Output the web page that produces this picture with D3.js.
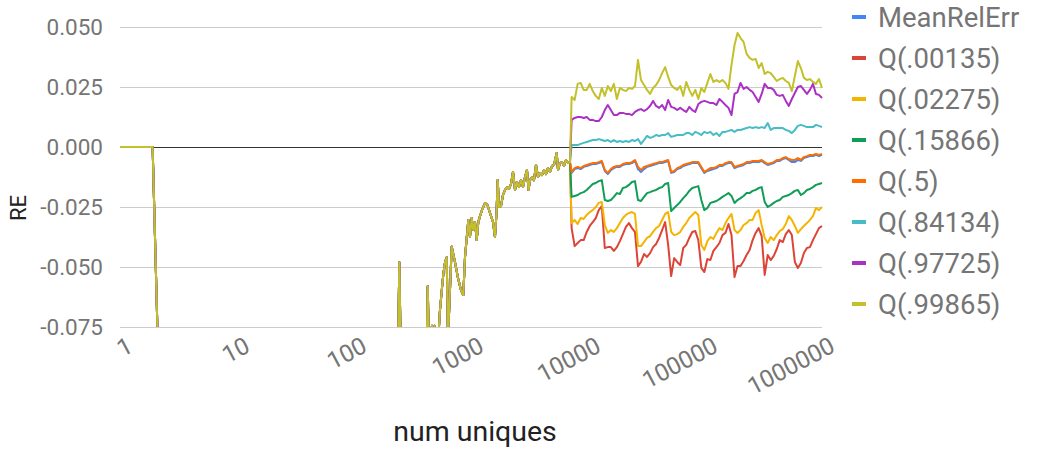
<!DOCTYPE html>
<html>
<head>
<meta charset="utf-8">
<script src="https://cdnjs.cloudflare.com/ajax/libs/d3/7.8.5/d3.min.js"></script>
<style>
body { margin: 0; background: #fff; }
svg text { font-family: Roboto, "Noto Sans", sans-serif; }
</style>
</head>
<body>
<svg id="chart" width="1037" height="449"></svg>
<script>
var seriesNames = ["MeanRelErr", "Q(.00135)", "Q(.02275)", "Q(.15866)", "Q(.5)", "Q(.84134)", "Q(.97725)", "Q(.99865)"];
var seriesColors = ["#4285f4", "#db4437", "#f4b400", "#0f9d58", "#ff6d00", "#46bdc6", "#ab30c4", "#c2c12b"];
var xTicks = [1, 10, 100, 1000, 10000, 100000, 1000000];
var yTicks = [-0.075, -0.05, -0.025, 0, 0.025, 0.05];

// below ~7000 uniques every series gives the same RE: [num uniques, RE]
var sharedPts = [
    [1, 0], [1.9, 0], [2.1, -0.08], [3, -0.1], [10, -0.1], [50, -0.1], [200, -0.1],
    [238, -0.085], [244, -0.048], [251, -0.085], [417, -0.085], [427, -0.058], [437, -0.085],
    [464, -0.0745], [473, -0.085], [486, -0.0745], [497, -0.085], [525, -0.08], [543, -0.068],
    [562, -0.060], [580, -0.053], [600, -0.048], [620, -0.046], [636, -0.08], [684, -0.0415],
    [730, -0.048], [774, -0.0546], [821, -0.0596], [859, -0.0617], [889, -0.0458], [919, -0.038],
    [949, -0.0304], [980, -0.0375], [1014, -0.0296], [1046, -0.0346], [1082, -0.0313], [1119, -0.0388],
    [1154, -0.0313], [1194, -0.0288], [1242, -0.0263], [1318, -0.0233], [1384, -0.0242], [1453, -0.0275],
    [1542, -0.0313], [1603, -0.0375], [1652, -0.0275], [1692, -0.0138], [1735, -0.025], [1804, -0.0246],
    [1877, -0.02], [1953, -0.0179], [2031, -0.0167], [2113, -0.0175], [2198, -0.0154], [2286, -0.0104],
    [2378, -0.0179], [2473, -0.0146], [2572, -0.0167], [2675, -0.0138], [2783, -0.0167], [2894, -0.0125],
    [3010, -0.0096], [3101, -0.0179], [3194, -0.0138], [3322, -0.0125], [3455, -0.0138], [3594, -0.0075],
    [3737, -0.0125], [3887, -0.0108], [4044, -0.0117], [4206, -0.0096], [4375, -0.0113], [4550, -0.0088],
    [4732, -0.0104], [4922, -0.0079], [5119, -0.0075], [5402, -0.0025], [5542, -0.0096], [5764, -0.0067],
    [5995, -0.0063], [6235, -0.0079], [6485, -0.0054], [6745, -0.0067], [7015, -0.0063]
];

// after that the series split; 84 log-spaced sample points up to 1e6
var tailN = d3.range(84).map(function(i) { return Math.round(Math.pow(10, 3.86 + i * 2.14 / 83)); });

var meanRelErr = [-.0108,-.0092,-.0088,-.0092,-.0083,-.0079,-.0075,-.0071,-.0071,-.0067,
    -.0063,-.0100,-.0113,-.0096,-.0088,-.0083,-.0083,-.0075,-.0071,-.0071,
    -.0067,-.0058,-.0092,-.0104,-.0092,-.0083,-.0079,-.0075,-.0071,-.0067,
    -.0067,-.0063,-.0058,-.0108,-.0104,-.0092,-.0088,-.0079,-.0075,-.0071,
    -.0067,-.0067,-.0067,-.0088,-.0108,-.0100,-.0096,-.0092,-.0088,-.0079,
    -.0079,-.0071,-.0067,-.0067,-.0088,-.0083,-.0079,-.0075,-.0067,-.0067,
    -.0063,-.0063,-.0063,-.0058,-.0067,-.0075,-.0071,-.0067,-.0058,-.0058,
    -.0050,-.0046,-.0054,-.0063,-.0063,-.0054,-.0058,-.0046,-.0042,-.0038,
    -.0038,-.0033,-.0038,-.0033];
var q00135 = [-.0338,-.0413,-.0400,-.0388,-.0388,-.0354,-.0329,-.0313,-.0296,-.0263,
    -.0246,-.0421,-.0417,-.0417,-.0433,-.0417,-.0392,-.0363,-.0333,-.0317,
    -.0338,-.0354,-.0496,-.0479,-.0446,-.0458,-.0442,-.0417,-.0404,-.0379,
    -.0346,-.0313,-.0408,-.0538,-.0463,-.0479,-.0492,-.0421,-.0408,-.0379,
    -.0354,-.0350,-.0388,-.0504,-.0521,-.0467,-.0471,-.0433,-.0417,-.0400,
    -.0367,-.0358,-.0321,-.0367,-.0542,-.0496,-.0496,-.0475,-.0450,-.0429,
    -.0388,-.0358,-.0338,-.0371,-.0533,-.0450,-.0471,-.0454,-.0425,-.0388,
    -.0396,-.0363,-.0346,-.0367,-.0479,-.0504,-.0483,-.0442,-.0421,-.0417,
    -.0388,-.0363,-.0338,-.0329];
var q02275 = [-.0317,-.0304,-.0321,-.0296,-.0300,-.0283,-.0271,-.0263,-.0250,-.0233,
    -.0229,-.0325,-.0358,-.0346,-.0354,-.0338,-.0317,-.0296,-.0283,-.0275,
    -.0271,-.0279,-.0413,-.0413,-.0396,-.0379,-.0371,-.0354,-.0338,-.0329,
    -.0304,-.0279,-.0271,-.0354,-.0367,-.0363,-.0354,-.0333,-.0317,-.0296,
    -.0283,-.0271,-.0283,-.0408,-.0429,-.0392,-.0375,-.0383,-.0358,-.0338,
    -.0346,-.0317,-.0296,-.0279,-.0346,-.0358,-.0346,-.0325,-.0317,-.0304,
    -.0304,-.0275,-.0263,-.0325,-.0379,-.0400,-.0375,-.0388,-.0367,-.0350,
    -.0342,-.0321,-.0288,-.0304,-.0329,-.0358,-.0342,-.0329,-.0317,-.0304,
    -.0288,-.0254,-.0263,-.0250];
var q15866 = [-.0208,-.0204,-.0200,-.0192,-.0188,-.0179,-.0167,-.0154,-.0150,-.0142,
    -.0138,-.0221,-.0225,-.0221,-.0208,-.0192,-.0196,-.0171,-.0167,-.0158,
    -.0146,-.0142,-.0221,-.0225,-.0208,-.0192,-.0188,-.0183,-.0179,-.0171,
    -.0167,-.0154,-.0150,-.0267,-.0254,-.0242,-.0229,-.0213,-.0200,-.0183,
    -.0171,-.0167,-.0163,-.0221,-.0263,-.0254,-.0233,-.0229,-.0225,-.0217,
    -.0208,-.0200,-.0192,-.0204,-.0233,-.0221,-.0213,-.0204,-.0192,-.0192,
    -.0183,-.0179,-.0171,-.0167,-.0229,-.0250,-.0242,-.0233,-.0225,-.0221,
    -.0208,-.0204,-.0200,-.0192,-.0183,-.0179,-.0200,-.0192,-.0179,-.0175,
    -.0167,-.0158,-.0154,-.0150];
var q5 = [-.0104,-.0088,-.0083,-.0088,-.0079,-.0075,-.0071,-.0067,-.0067,-.0063,
    -.0058,-.0096,-.0108,-.0092,-.0083,-.0079,-.0079,-.0071,-.0067,-.0067,
    -.0063,-.0054,-.0083,-.0096,-.0083,-.0079,-.0075,-.0071,-.0067,-.0063,
    -.0063,-.0058,-.0054,-.0104,-.0100,-.0088,-.0083,-.0075,-.0071,-.0067,
    -.0063,-.0063,-.0063,-.0083,-.0104,-.0096,-.0088,-.0088,-.0083,-.0075,
    -.0075,-.0067,-.0063,-.0063,-.0083,-.0079,-.0075,-.0071,-.0063,-.0063,
    -.0058,-.0058,-.0058,-.0054,-.0063,-.0071,-.0067,-.0063,-.0054,-.0054,
    -.0046,-.0042,-.0050,-.0054,-.0054,-.0046,-.0054,-.0042,-.0038,-.0033,
    -.0033,-.0029,-.0033,-.0029];
var q84134 = [.0008,.0008,.0008,.0013,.0017,.0021,.0025,.0029,.0029,.0033,
    .0029,.0025,.0029,.0021,.0029,.0021,.0025,.0021,.0025,.0021,
    .0029,.0025,.0033,.0013,.0029,.0046,.0038,.0042,.0050,.0046,
    .0050,.0050,.0058,.0042,.0046,.0050,.0050,.0050,.0058,.0058,
    .0050,.0063,.0058,.0050,.0063,.0058,.0063,.0050,.0058,.0046,
    .0063,.0063,.0067,.0071,.0063,.0071,.0071,.0075,.0079,.0083,
    .0079,.0083,.0079,.0083,.0079,.0100,.0071,.0079,.0079,.0079,
    .0079,.0071,.0067,.0058,.0071,.0088,.0092,.0088,.0083,.0083,
    .0083,.0092,.0088,.0083];
var q97725 = [.0113,.0121,.0125,.0125,.0121,.0125,.0113,.0113,.0108,.0108,
    .0125,.0154,.0175,.0154,.0133,.0133,.0142,.0142,.0138,.0138,
    .0133,.0146,.0154,.0158,.0150,.0158,.0171,.0192,.0171,.0163,
    .0175,.0154,.0196,.0167,.0163,.0154,.0163,.0154,.0146,.0167,
    .0154,.0146,.0179,.0188,.0192,.0188,.0183,.0183,.0175,.0200,
    .0188,.0175,.0163,.0133,.0221,.0229,.0267,.0242,.0250,.0238,
    .0229,.0208,.0188,.0221,.0263,.0246,.0246,.0238,.0217,.0213,
    .0217,.0192,.0171,.0200,.0225,.0250,.0254,.0238,.0221,.0238,
    .0263,.0221,.0217,.0204];
var q99865 = [.0208,.0196,.0263,.0267,.0238,.0238,.0263,.0233,.0213,.0200,
    .0246,.0213,.0254,.0233,.0263,.0200,.0246,.0238,.0233,.0246,
    .0242,.0254,.0363,.0279,.0258,.0238,.0221,.0246,.0258,.0279,
    .0308,.0333,.0292,.0258,.0246,.0238,.0254,.0213,.0271,.0238,
    .0213,.0238,.0200,.0246,.0229,.0267,.0304,.0271,.0279,.0271,
    .0279,.0267,.0242,.0342,.0425,.0475,.0454,.0438,.0388,.0371,
    .0363,.0367,.0329,.0350,.0304,.0313,.0308,.0292,.0275,.0283,
    .0288,.0275,.0267,.0233,.0296,.0358,.0329,.0288,.0279,.0283,
    .0271,.0263,.0283,.0246];

var tails = [meanRelErr, q00135, q02275, q15866, q5, q84134, q97725, q99865];

var svg = d3.select("#chart");
var plotL = 120, plotR = 822, plotT = 27, plotB = 327;

var x = d3.scaleLog().domain([1, 1000000]).range([plotL, plotR]);
var y = d3.scaleLinear().domain([-0.075, 0.05]).range([plotB, plotT]);

// gridlines + y labels
var yAxis = svg.append("g")
    .attr("transform", "translate(" + plotL + ",0)")
    .call(d3.axisLeft(y).tickValues(yTicks).tickSize(-(plotR - plotL)).tickPadding(17)
        .tickFormat(function(d) { return d.toFixed(3); }));
yAxis.select(".domain").remove();
yAxis.selectAll("line").attr("stroke", function(d) { return d == 0 ? "#333" : "#ccc"; });
yAxis.selectAll("text").attr("fill", "#757575").style("font-size", "22.5px");

// x labels, slanted
var xAxis = svg.append("g")
    .attr("transform", "translate(0," + plotB + ")")
    .call(d3.axisBottom(x).tickValues(xTicks).tickSize(0).tickFormat(d3.format("d")));
xAxis.select(".domain").remove();
xAxis.selectAll("text")
    .attr("x", 0).attr("y", 0).attr("dy", 0)
    .attr("transform", "translate(14,24) rotate(-28)")
    .style("text-anchor", "end")
    .style("font-size", "24px")
    .attr("fill", "#757575");

svg.append("text")
    .attr("x", 475).attr("y", 441)
    .attr("text-anchor", "middle")
    .style("font-size", "28.5px")
    .attr("fill", "#222")
    .text("num uniques");

svg.append("text")
    .attr("transform", "translate(26,208) rotate(-90)")
    .attr("text-anchor", "middle")
    .style("font-size", "22px")
    .attr("fill", "#222")
    .text("RE");

svg.append("clipPath").attr("id", "plotclip")
    .append("rect").attr("x", plotL - 1).attr("y", plotT).attr("width", plotR - plotL + 2).attr("height", plotB - plotT);

var line = d3.line()
    .x(function(d) { return x(d[0]); })
    .y(function(d) { return y(d[1]); });

var plot = svg.append("g").attr("clip-path", "url(#plotclip)");
for (var k = 0; k < seriesNames.length; k++)
{
    var pts = sharedPts.concat(tailN.map(function(n, i) { return [n, tails[k][i]]; }));
    plot.append("path")
        .datum(pts)
        .attr("d", line)
        .attr("fill", "none")
        .attr("stroke", seriesColors[k])
        .attr("stroke-width", 2)
        .attr("stroke-linejoin", "round");
}

// legend
var leg = svg.append("g");
seriesNames.forEach(function(name, i) {
    var ly = 17 + i * 41;
    leg.append("rect")
        .attr("x", 852).attr("y", ly - 2)
        .attr("width", 14).attr("height", 4)
        .attr("fill", seriesColors[i]);
    leg.append("text")
        .attr("x", 878).attr("y", ly)
        .attr("dy", "0.35em")
        .style("font-size", "27.5px")
        .attr("fill", "#757575")
        .text(name);
});
</script>
</body>
</html>
